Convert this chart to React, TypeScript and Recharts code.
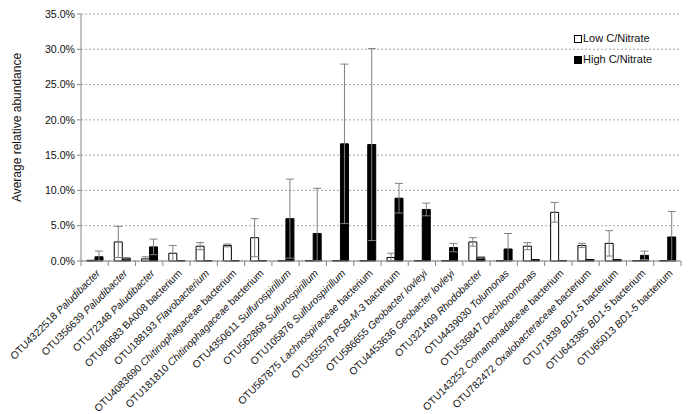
import React from 'react';
import {
  BarChart,
  Bar,
  XAxis,
  YAxis,
  CartesianGrid,
  ErrorBar,
} from 'recharts';

const otuIds = [
  'OTU4322518', 'OTU356639', 'OTU72348', 'OTU80683', 'OTU188193', 'OTU4083690',
  'OTU181810', 'OTU4350611', 'OTU562868', 'OTU105876', 'OTU567875', 'OTU355578',
  'OTU586655', 'OTU4453636', 'OTU321409', 'OTU4439030', 'OTU536847', 'OTU143252',
  'OTU782472', 'OTU71839', 'OTU643385', 'OTU65013',
];

// [italic part, plain part]
const taxa: [string, string][] = [
  ['Paludibacter', ''], ['Paludibacter', ''], ['Paludibacter', ''], ['', 'BA008 bacterium'],
  ['Flavobacterium', ''], ['Chitinophagaceae', ' bacterium'], ['Chitinophagaceae', ' bacterium'],
  ['Sulfurospirillum', ''], ['Sulfurospirillum', ''], ['Sulfurospirillum', ''],
  ['Lachnospiraceae', ' bacterium'], ['PSB-M-3', ' bacterium'], ['Geobacter lovleyi', ''],
  ['Geobacter lovleyi', ''], ['Rhodobacter', ''], ['Tolumonas', ''], ['Dechloromonas', ''],
  ['Comamonadaceae', ' bacterium'], ['Oxalobacteraceae', ' bacterium'], ['BD1-5', ' bacterium'],
  ['BD1-5', ' bacterium'], ['BD1-5', ' bacterium'],
];

const lowCN = [0.1, 2.7, 0.3, 1.1, 2.1, 2.2, 3.3, 0.05, 0.05, 0.05, 0.05, 0.5, 0.05, 0.05, 2.7, 0.05, 2.1, 6.9, 2.2, 2.5, 0.05, 0.05];
const lowCNErr = [0, 2.2, 0.3, 1.1, 0.5, 0.2, 2.7, 0, 0, 0, 0, 0.6, 0, 0, 0.6, 0, 0.5, 1.4, 0.3, 1.8, 0, 0];
const highCN = [0.6, 0.4, 2.0, 0.05, 0.05, 0.05, 0.05, 6.0, 3.9, 16.6, 16.5, 8.9, 7.3, 1.9, 0.5, 1.7, 0.2, 0.05, 0.2, 0.2, 0.8, 3.4];
const highCNErr = [0.8, 0.1, 1.1, 0, 0, 0, 0, 5.6, 6.4, 11.3, 13.6, 2.1, 0.9, 0.6, 0.1, 2.2, 0, 0, 0, 0, 0.6, 3.6];

const yTicks = [0, 5, 10, 15, 20, 25, 30, 35];

const errPair = (v: number, e: number) => (e > 0 ? [Math.min(v, e), e] : undefined);

const data = otuIds.map((otu, i) => ({
  otu,
  low: lowCN[i],
  lowErr: errPair(lowCN[i], lowCNErr[i]),
  high: highCN[i],
  highErr: errPair(highCN[i], highCNErr[i]),
}));

const FONT = 'Liberation Sans, Arial, sans-serif';

const CategoryTick = (props: any) => {
  const { x, y, payload, index } = props;
  const [it, plain] = taxa[index];
  const off = payload.offset || 0;
  const ax = x + 6;
  const ay = y + 5;
  return (
    <g>
      <line x1={x - off} x2={x - off} y1={y - 8} y2={y - 3} stroke="#868686" />
      {index === otuIds.length - 1 && (
        <line x1={x + off} x2={x + off} y1={y - 8} y2={y - 3} stroke="#868686" />
      )}
      <text
        x={ax}
        y={ay}
        textAnchor="end"
        fontSize={10.3}
        fontFamily={FONT}
        fill="#111"
        transform={`rotate(-45, ${ax}, ${ay})`}
      >
        {payload.value + ' '}
        {it && <tspan fontStyle="italic">{it}</tspan>}
        {plain && <tspan>{plain}</tspan>}
      </text>
    </g>
  );
};

const YTitle = (props: any) => {
  const { viewBox } = props;
  const cx = viewBox.x + 17;
  const cy = viewBox.y + viewBox.height / 2 - 10;
  return (
    <text
      x={cx}
      y={cy}
      textAnchor="middle"
      dominantBaseline="central"
      fontSize={12}
      fontFamily={FONT}
      fill="#111"
      transform={`rotate(-90, ${cx}, ${cy})`}
    >
      Average relative abundance
    </text>
  );
};

const legendItems = [
  { label: 'Low C/Nitrate', fill: '#fff' },
  { label: 'High C/Nitrate', fill: '#000' },
];

const LegendBox = () => (
  <div
    style={{
      position: 'absolute',
      left: 574,
      top: 28,
      fontFamily: FONT,
      fontSize: 11,
      color: '#111',
      lineHeight: '21px',
    }}
  >
    {legendItems.map((d) => (
      <div key={d.label} style={{ display: 'flex', alignItems: 'center' }}>
        <span
          style={{
            width: 6,
            height: 6,
            border: '1px solid #000',
            background: d.fill,
            marginRight: 1,
            display: 'inline-block',
          }}
        />
        {d.label}
      </div>
    ))}
  </div>
);

export default function App() {
  return (
    <div style={{ position: 'absolute', left: 0, top: 0, width: 691, height: 414, background: '#fff' }}>
      <BarChart
        width={691}
        height={414}
        data={data}
        margin={{ top: 14, right: 10, left: 0, bottom: 0 }}
        barGap={0}
        barSize={8}
      >
        <CartesianGrid vertical={false} stroke="#a6a6a6" strokeDasharray="2 2" />
        <XAxis
          dataKey="otu"
          interval={0}
          height={153}
          tickLine={false}
          axisLine={{ stroke: '#868686' }}
          tick={<CategoryTick />}
        />
        <YAxis
          width={81}
          domain={[0, 35]}
          ticks={yTicks}
          tickFormatter={(v: number) => v.toFixed(1) + '%'}
          axisLine={{ stroke: '#868686' }}
          tickLine={{ stroke: '#868686' }}
          tickSize={4}
          tick={{ fontSize: 10.6, fontFamily: FONT, fill: '#111' }}
          label={<YTitle />}
        />
        <Bar dataKey="low" name="Low C/Nitrate" fill="#fff" stroke="#000" strokeWidth={1} isAnimationActive={false}>
          <ErrorBar dataKey="lowErr" width={4} stroke="#808080" strokeWidth={1} direction="y" />
        </Bar>
        <Bar dataKey="high" name="High C/Nitrate" fill="#000" stroke="#000" strokeWidth={1} isAnimationActive={false}>
          <ErrorBar dataKey="highErr" width={4} stroke="#808080" strokeWidth={1} direction="y" />
        </Bar>
      </BarChart>
      <LegendBox />
    </div>
  );
}
